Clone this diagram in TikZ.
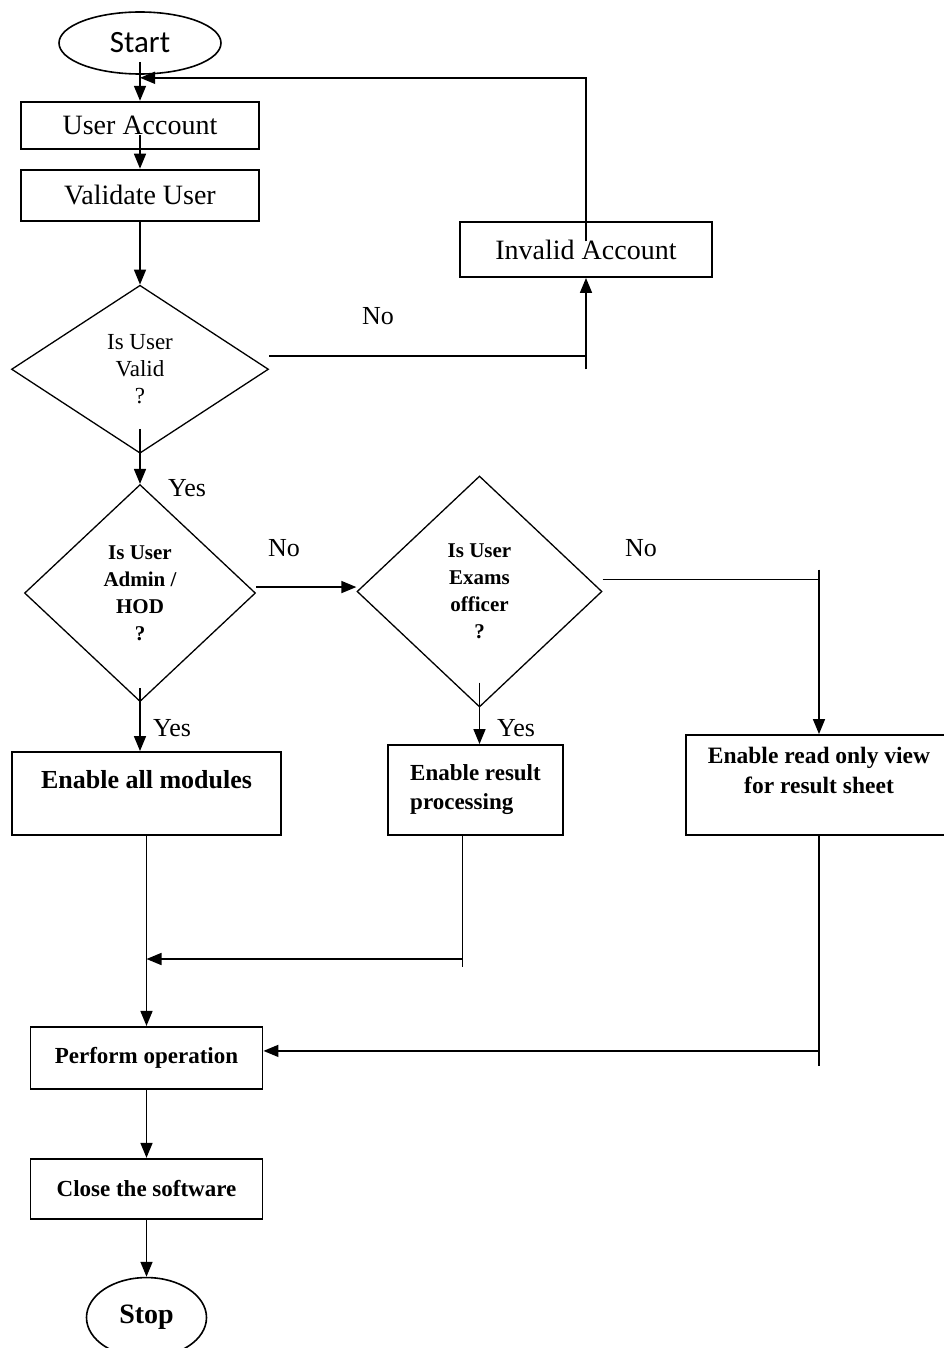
\documentclass[tikz,border=0pt]{standalone}
\usepackage{fontspec}
\setmainfont{Liberation Serif}
\newfontfamily\calibrifont{Carlito}
\usepackage{tikz}
\usetikzlibrary{arrows.meta,positioning,shapes.geometric}
\def\plainsize{\fontsize{28}{32}\selectfont}
\def\asksize{\fontsize{21}{27}\selectfont}
\def\boldsize{\fontsize{23}{29}\selectfont\bfseries}
\def\annotsize{\fontsize{26}{28}\selectfont}

\begin{document}
\begin{tikzpicture}[x=1pt,y=-1pt,line width=1.6pt,draw=black, myarrow/.style={-{Triangle[length=15pt,width=12pt]}}]
    \tikzstyle{terminal}=[ellipse,draw,line width=1.6pt,inner sep=0pt]
    \tikzstyle{process box}=[rectangle,draw,line width=1.9pt,inner sep=0pt,align=center]
    \tikzstyle{plain box}=[process box,font=\plainsize]
    \tikzstyle{bold box}=[process box,font=\boldsize]
    \tikzstyle{decision}=[diamond,draw,line width=1.3pt,inner sep=0pt,align=center]
    \tikzstyle{annot}=[font=\annotsize,inner sep=0pt]
    \useasboundingbox (0,0) rectangle (944,1348);
    % Draw the nodes
    \node[terminal, minimum width=162pt, minimum height=62pt, font=\calibrifont\fontsize{31}{34}\selectfont] (start) at (140,43) {Start};
    \node[plain box, minimum width=238pt, minimum height=47pt, below=26pt of start] (acct) {User Account};
    \node[plain box, minimum width=238pt, minimum height=51pt, below=19pt of acct] (valid) {Validate User};
    \node[decision, minimum width=257pt, minimum height=168pt, below=63pt of valid, font=\fontsize{23}{27}\selectfont] (ask-1) {Is User\\Valid\\?};
    \node[decision, minimum width=231pt, minimum height=217pt, below=30pt of ask-1, font=\asksize\bfseries] (ask-2) {Is User\\Admin /\\HOD\\?};
    \node[decision, minimum width=245pt, minimum height=231pt, font=\asksize\bfseries] (ask-3) at (479.5,591.5) {Is User\\Exams\\officer\\?};
    \node[plain box, minimum width=252pt, minimum height=55pt] (invalid) at (586,249.5) {Invalid Account};

    \node[bold box, minimum width=269pt, minimum height=83pt, text height=36pt, text depth=47pt, font=\fontsize{26}{30}\selectfont\bfseries] (allmod) at (146.5,793.5) {Enable all modules};
    \node[bold box, minimum width=175pt, minimum height=90pt, align=left] (result) at (475.5,790) {Enable result\\processing};
    \node[bold box, minimum width=266pt, minimum height=100pt, text height=58pt, text depth=42pt, font=\fontsize{23.5}{30}\selectfont\bfseries] (readonly) at (819,785) {Enable read only view\\for result sheet};

    \node[bold box, minimum width=232pt, minimum height=62pt, below=190pt of allmod] (perform) {Perform operation};
    \node[bold box, minimum width=232pt, minimum height=60pt, below=68pt of perform] (close) {Close the software};
    \node[terminal, minimum width=120pt, minimum height=80pt, below=57pt of close, font=\fontsize{28}{32}\selectfont\bfseries] (stop) {Stop};

    % Connect every node
    \draw[myarrow] ([yshift=-19pt]start.center) -- (acct.north);
    \draw[myarrow] ([yshift=-10pt]acct.center) -- (valid.north);
    \draw[myarrow] (valid.south) -- (ask-1.north);
    \draw[myarrow] ([yshift=25pt]ask-1.south) -- (ask-2.north);

    \draw ([yshift=13pt]ask-1.east) -- ([yshift=13pt]ask-1.east -| invalid.south);
    \draw[myarrow] (ask-1.east -| invalid.south) -- (invalid.south);
    \draw[myarrow] ([yshift=8pt]invalid.center) |- ([yshift=-3pt]start.south);

    \draw[myarrow] ([yshift=6pt]ask-2.east) -- ([yshift=6pt]ask-2.east -| ask-3.west);
    \draw ([yshift=12pt]ask-3.east) -- ([yshift=12pt]ask-3.east -| readonly.north);
    \draw[myarrow] ([yshift=22pt]ask-3.east -| readonly.north) -- (readonly.north);

    \draw[myarrow] ([yshift=14pt]ask-2.south) -- (ask-2.south |- allmod.north);
    \draw[myarrow] ([yshift=25pt]ask-3.south) -- (ask-3.south |- result.north);

    \coordinate (merge) at (146.5,959);
    \draw[myarrow] (allmod.south) -- (perform.north);
    \draw ([xshift=-13pt]result.south) -- ([xshift=-13pt,yshift=-8pt]result.south |- merge);
    \draw[myarrow] ([xshift=-13pt]result.south |- merge) -- (merge);
    \draw (readonly.south) -- ([yshift=-8pt]readonly.south |- perform.east);
    \draw[myarrow] ([yshift=7pt]readonly.south |- perform.east) -- ([yshift=7pt]perform.east);

    \draw[myarrow] (perform.south) -- (close.north);
    \draw[myarrow] (close.south) -- (stop.north);

    % Annotate the branches
    \node[annot] (no-1) at (378,316) {No};
    \node[annot] (yes-1) at (187,488) {Yes};
    \node[annot] (no-2) at (284,548) {No};
    \node[annot] (no-3) at (641,548) {No};
    \node[annot] (yes-2) at (172,728) {Yes};
    \node[annot] (yes-3) at (516,728) {Yes};
\end{tikzpicture}
\end{document}
